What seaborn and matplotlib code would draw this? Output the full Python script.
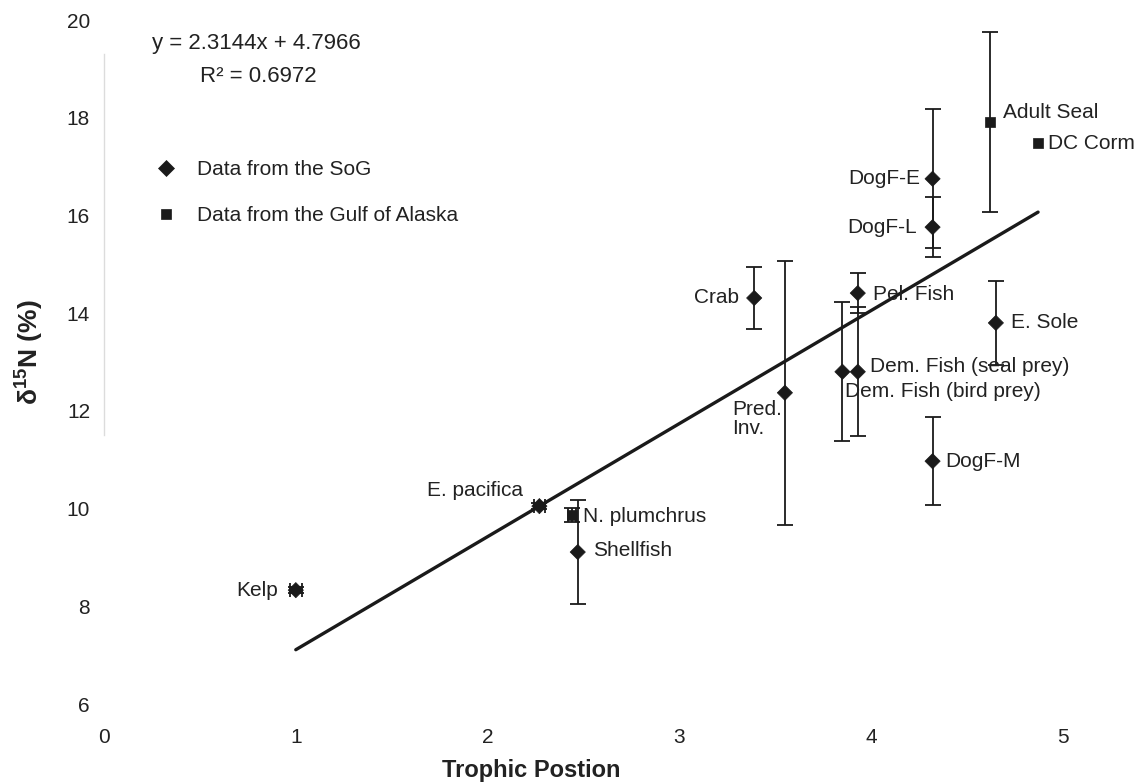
import numpy as np
import pandas as pd
import matplotlib
matplotlib.use("Agg")
import matplotlib.pyplot as plt
import seaborn as sns

# ---- data ----
labels = ["Kelp", "E. pacifica", "N. plumchrus", "Shellfish", "Crab", "Pred.\nInv.",
          "Pel. Fish", "Dem. Fish (seal prey)", "Dem. Fish (bird prey)", "E. Sole",
          "DogF-M", "DogF-E", "DogF-L", "Adult Seal", "DC Corm"]
trophic = [1.00, 2.27, 2.44, 2.47, 3.39, 3.55, 3.93, 3.93, 3.85, 4.65, 4.32, 4.32, 4.32, 4.62, 4.87]
d15n = [8.33, 10.05, 9.87, 9.11, 14.31, 12.37, 14.41, 12.80, 12.80, 13.80, 10.97, 16.75, 15.76, 17.91, 17.48]
d15n_err = [0.06, 0.06, 0.15, 1.07, 0.63, 2.70, 0.41, 1.32, 1.42, 0.86, 0.90, 1.42, 0.61, 1.84, 0.0]
tp_err = [0.03, 0.03, 0.02, 0.0, 0.0, 0.0, 0.0, 0.0, 0.0, 0.0, 0.0, 0.0, 0.0, 0.0, 0.0]
source = ["SoG", "SoG", "GoA", "SoG", "SoG", "SoG", "SoG", "SoG", "SoG", "SoG",
          "SoG", "SoG", "SoG", "GoA", "GoA"]
source_names = {"SoG": "Data from the SoG", "GoA": "Data from the Gulf of Alaska"}

slope, intercept, r2 = 2.3144, 4.7966, 0.6972
fit_x = [1.0, 4.87]

x_ticks = [0, 1, 2, 3, 4, 5]
y_ticks = [6, 8, 10, 12, 14, 16, 18, 20]

# ---- label placement (points offset, alignment) ----
label_style = {
    "Kelp": ((-13, 0), "right"),
    "E. pacifica": ((-12, 11), "right"),
    "N. plumchrus": ((8, -1), "left"),
    "Shellfish": ((11, 1), "left"),
    "Crab": ((-11, 0), "right"),
    "Pred.\nInv.": ((-38, -19), "left"),
    "Pel. Fish": ((11, -1), "left"),
    "Dem. Fish (seal prey)": ((9, 4), "left"),
    "Dem. Fish (bird prey)": ((2, -14), "left"),
    "E. Sole": ((11, 0), "left"),
    "DogF-M": ((9, 0), "left"),
    "DogF-E": ((-9, 0), "right"),
    "DogF-L": ((-11, 0), "right"),
    "Adult Seal": ((9, 7), "left"),
    "DC Corm": ((7, 0), "left"),
}

df = pd.DataFrame({"label": labels, "tp": trophic, "d15n": d15n,
                   "err": d15n_err, "xerr": tp_err,
                   "source": [source_names[s] for s in source]})

sns.set_theme(style="white")
plt.rcParams["font.family"] = ["Liberation Sans", "DejaVu Sans"]
plt.rcParams["mathtext.fontset"] = "custom"
plt.rcParams["mathtext.rm"] = "Liberation Sans"
plt.rcParams["mathtext.bf"] = "Liberation Sans:bold"
plt.rcParams["mathtext.it"] = "Liberation Sans:italic"

ink = "#1a1a1a"
txt = "#222222"

fig = plt.figure(figsize=(11.43, 7.84), dpi=100)
ax = fig.add_axes([104 / 1143, 80 / 784, 959 / 1143, 684 / 784])

# regression line
fx = np.array(fit_x)
sns.lineplot(x=fx, y=slope * fx + intercept, color=ink, lw=2.4, ax=ax, zorder=2)

# error bars (only where an error exists)
ey = df[df["err"] > 0]
ax.errorbar(ey["tp"], ey["d15n"], yerr=ey["err"], fmt="none",
            ecolor=ink, elinewidth=1.3, capsize=6, capthick=1.3, zorder=3)
ex = df[df["xerr"] > 0]
ax.errorbar(ex["tp"], ex["d15n"], xerr=ex["xerr"], fmt="none",
            ecolor=ink, elinewidth=1.3, capsize=5, capthick=1.3, zorder=3)

# points
sns.scatterplot(data=df, x="tp", y="d15n", style="source",
                markers={source_names["SoG"]: "D", source_names["GoA"]: "s"},
                color=ink, s=60, edgecolor=ink, linewidth=0.5, ax=ax, zorder=4)

# point labels
for lab, x, y in zip(labels, trophic, d15n):
    off, ha = label_style[lab]
    ax.annotate(lab, (x, y), xytext=off, textcoords="offset points",
                ha=ha, va="center", fontsize=15, color=txt, linespacing=1.0,
                zorder=5)

# equation
ax.text(0.05, 0.965, f"y = {slope}x + {intercept}", transform=ax.transAxes,
        fontsize=16, color=txt, va="center", ha="left")
ax.text(0.10, 0.917, f"R² = {r2}", transform=ax.transAxes,
        fontsize=16, color=txt, va="center", ha="left")

# legend
handles, leg_labels = ax.get_legend_handles_labels()
ax.legend(handles, leg_labels, loc="upper left", bbox_to_anchor=(0.045, 0.81),
          frameon=False, fontsize=15, handlelength=0.8, handletextpad=1.1,
          labelspacing=1.3, borderpad=0, labelcolor=txt)

ax.set_xlim(0, 5)
ax.set_ylim(6, 20)
ax.set_xticks(x_ticks)
ax.set_yticks(y_ticks)
ax.tick_params(axis="both", length=0, labelsize=15, colors=txt)
ax.tick_params(axis="y", pad=10)
ax.tick_params(axis="x", pad=17)

ax.set_xlabel("Trophic Postion", fontsize=17, fontweight="bold", color=txt)
ax.xaxis.set_label_coords(0.446, -0.08)
ax.set_ylabel("δ$^{\\mathbf{15}}$N (%)", fontsize=19, fontweight="bold", color=txt)
ax.yaxis.set_label_coords(-0.06, 0.515)

for side in ["top", "right", "bottom"]:
    ax.spines[side].set_visible(False)
ax.spines["left"].set_color("#dcdcdc")
ax.spines["left"].set_linewidth(1.0)
ax.spines["left"].set_bounds(11.5, 19.3)
ax.grid(False)

fig.savefig("out.png", dpi=100)
